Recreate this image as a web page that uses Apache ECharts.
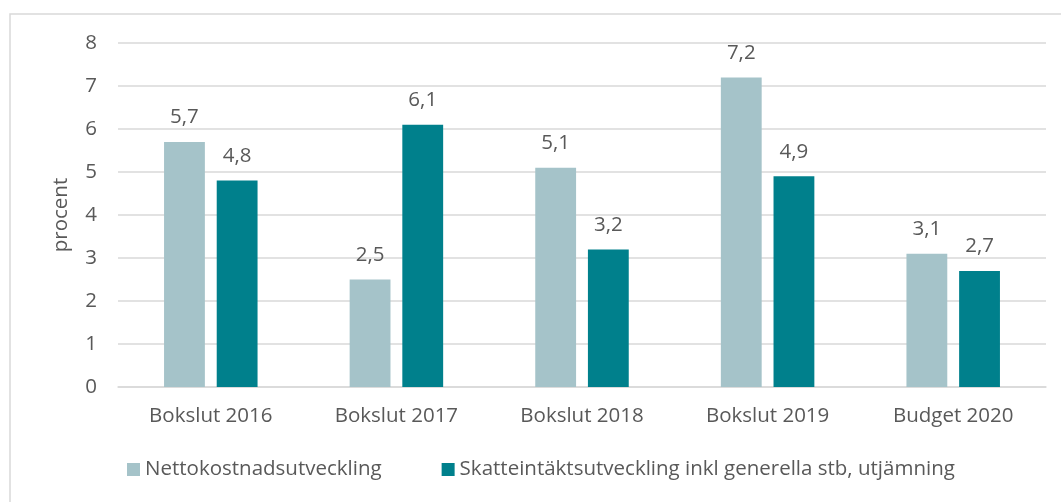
<!DOCTYPE html>
<html>
<head>
<meta charset="utf-8">
<script src="https://cdn.jsdelivr.net/npm/echarts@6/dist/echarts.min.js"></script>
<style>
  html, body { margin: 0; padding: 0; background: #fff; }
  #main { width: 1061px; height: 502px; }
</style>
</head>
<body>
<div id="main"></div>
<script>
const categories = ['Bokslut 2016', 'Bokslut 2017', 'Bokslut 2018', 'Bokslut 2019', 'Budget 2020']
const nettokostnad = [5.7, 2.5, 5.1, 7.2, 3.1]
const skatteintakt = [4.8, 6.1, 3.2, 4.9, 2.7]
const seriesNames = ['Nettokostnadsutveckling', 'Skatteintäktsutveckling inkl generella stb, utjämning']

const textColor = '#595959'
const fontFamily = 'Open Sans, Liberation Sans, sans-serif'

const myChart = echarts.init(document.getElementById('main'))

const labelFmt = (p) => String(p.value).replace('.', ',')

myChart.setOption({
  animation: false,
  color: ['#A5C3C9', '#00808C'],
  textStyle: { fontFamily: fontFamily, color: textColor },
  graphic: [{
    type: 'rect',
    shape: { x: 10, y: 14, width: 1100, height: 600 },
    style: { fill: 'none', stroke: '#D9D9D9', lineWidth: 1.5 },
    silent: true
  }],
  grid: {
    left: 118,
    right: 15,
    top: 43,
    bottom: 115
  },
  legend: {
    data: seriesNames,
    left: 122,
    top: 454,
    itemWidth: 13,
    itemHeight: 13,
    itemGap: 60,
    icon: 'rect',
    textStyle: { fontSize: 20.5, color: textColor, fontFamily: fontFamily }
  },
  xAxis: {
    type: 'category',
    data: categories,
    axisTick: { show: false },
    axisLine: { lineStyle: { color: '#D9D9D9', width: 1.5 } },
    axisLabel: { fontSize: 20.5, color: textColor, margin: 19 }
  },
  yAxis: {
    type: 'value',
    min: 0,
    max: 8,
    interval: 1,
    name: 'procent',
    nameLocation: 'middle',
    nameGap: 46,
    nameRotate: 90,
    nameTextStyle: { fontSize: 20.5, color: textColor },
    axisLabel: { fontSize: 20.5, color: textColor, margin: 21 },
    splitLine: { lineStyle: { color: '#D9D9D9', width: 1.5 } }
  },
  series: [{
    name: seriesNames[0],
    type: 'bar',
    barWidth: '22%',
    barGap: '29%',
    data: nettokostnad,
    label: { show: true, position: 'top', distance: 14, fontSize: 20.5, color: textColor, formatter: labelFmt }
  }, {
    name: seriesNames[1],
    type: 'bar',
    barWidth: '22%',
    data: skatteintakt,
    label: { show: true, position: 'top', distance: 14, fontSize: 20.5, color: textColor, formatter: labelFmt }
  }]
})
</script>
</body>
</html>
